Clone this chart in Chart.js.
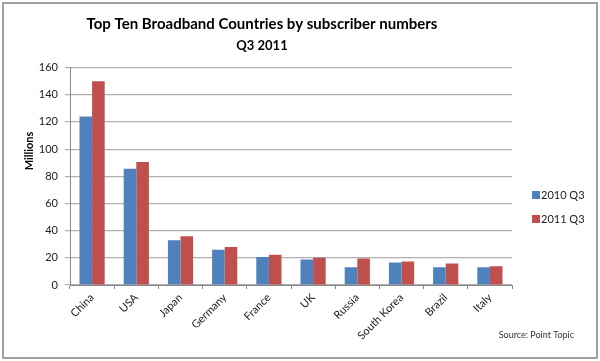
<!DOCTYPE html>
<html>
<head>
<meta charset="utf-8">
<script src="https://cdn.jsdelivr.net/npm/chart.js@4"></script>
<style>
  html, body { margin: 0; padding: 0; background: #fff; }
  #wrap { width: 600px; height: 361px; position: relative; }
</style>
</head>
<body>
<div id="wrap"><canvas id="chart" width="600" height="361"></canvas></div>
<script>
const countries = ["China", "USA", "Japan", "Germany", "France", "UK", "Russia", "South Korea", "Brazil", "Italy"];
const subs2010 = [124, 85.5, 33, 26, 20.6, 18.7, 13, 16.5, 13, 13];
const subs2011 = [150, 90.5, 35.8, 28, 22.2, 20, 19.5, 17.3, 15.8, 13.8];
const seriesNames = ["2010 Q3", "2011 Q3"];
const yTicks = [0, 20, 40, 60, 80, 100, 120, 140, 160];

const BLUE = "#4F81BD";
const RED  = "#C0504D";
const FONT = "Lato, 'Open Sans', sans-serif";

// Frame, y-axis title, legend and source note drawn by hand to match placement
const extras = {
  id: "extras",
  afterDraw(chart) {
    const ctx = chart.ctx;
    ctx.save();
    ctx.strokeStyle = "#a0a0a0";
    ctx.lineWidth = 2;
    ctx.strokeRect(3, 3, 594, 355);

    ctx.fillStyle = "#000";
    ctx.font = "bold 11px " + FONT;
    ctx.translate(29, 151);
    ctx.rotate(-Math.PI / 2);
    ctx.textAlign = "center";
    ctx.textBaseline = "middle";
    ctx.fillText("Millions", 0, 0);
    ctx.restore();

    ctx.save();
    ctx.font = "11px " + FONT;
    ctx.textBaseline = "middle";
    chart.data.datasets.forEach((ds, i) => {
      const y = 195 + i * 24;
      ctx.fillStyle = ds.backgroundColor;
      ctx.fillRect(532, y - 4, 8, 8);
      ctx.fillStyle = "#222";
      ctx.fillText(ds.label, 541, y);
    });

    ctx.font = "9px " + FONT;
    ctx.textAlign = "right";
    ctx.fillStyle = "#333";
    ctx.fillText("Source: Point Topic", 574, 335);
    ctx.restore();
  }
};

new Chart(document.getElementById("chart"), {
  type: "bar",
  data: {
    labels: countries,
    datasets: [
      { label: seriesNames[0], data: subs2010, backgroundColor: BLUE },
      { label: seriesNames[1], data: subs2011, backgroundColor: RED }
    ]
  },
  options: {
    responsive: false,
    animation: false,
    layout: { padding: { left: 12, right: 88, top: 0, bottom: 0 } },
    datasets: { bar: { categoryPercentage: 0.57, barPercentage: 1.0 } },
    plugins: {
      legend: { display: false },
      tooltip: { enabled: false },
      title: {
        display: true,
        text: "Top Ten Broadband Countries by subscriber numbers",
        color: "#000",
        font: { family: FONT, size: 15, weight: "bold" },
        padding: { top: 15, bottom: 5 }
      },
      subtitle: {
        display: true,
        text: "Q3 2011",
        color: "#000",
        font: { family: FONT, size: 13, weight: "bold" },
        padding: { top: 0, bottom: 14 }
      }
    },
    scales: {
      x: {
        grid: { drawOnChartArea: false, drawTicks: true, tickLength: 4, color: "#888" },
        border: { color: "#888" },
        ticks: {
          color: "#222",
          font: { family: FONT, size: 11 },
          maxRotation: 45, minRotation: 45,
          padding: 2
        },
        afterFit: s => { s.height = 76; }
      },
      y: {
        min: 0, max: 160,
        afterBuildTicks: s => { s.ticks = yTicks.map(v => ({ value: v })); },
        grid: { color: "#b0b0b0", lineWidth: 1.2, tickLength: 5 },
        border: { color: "#888" },
        ticks: {
          color: "#222",
          font: { family: FONT, size: 11 },
          padding: 7
        },
        afterFit: s => { s.width = 58; }
      }
    }
  },
  plugins: [extras]
});
</script>
</body>
</html>
